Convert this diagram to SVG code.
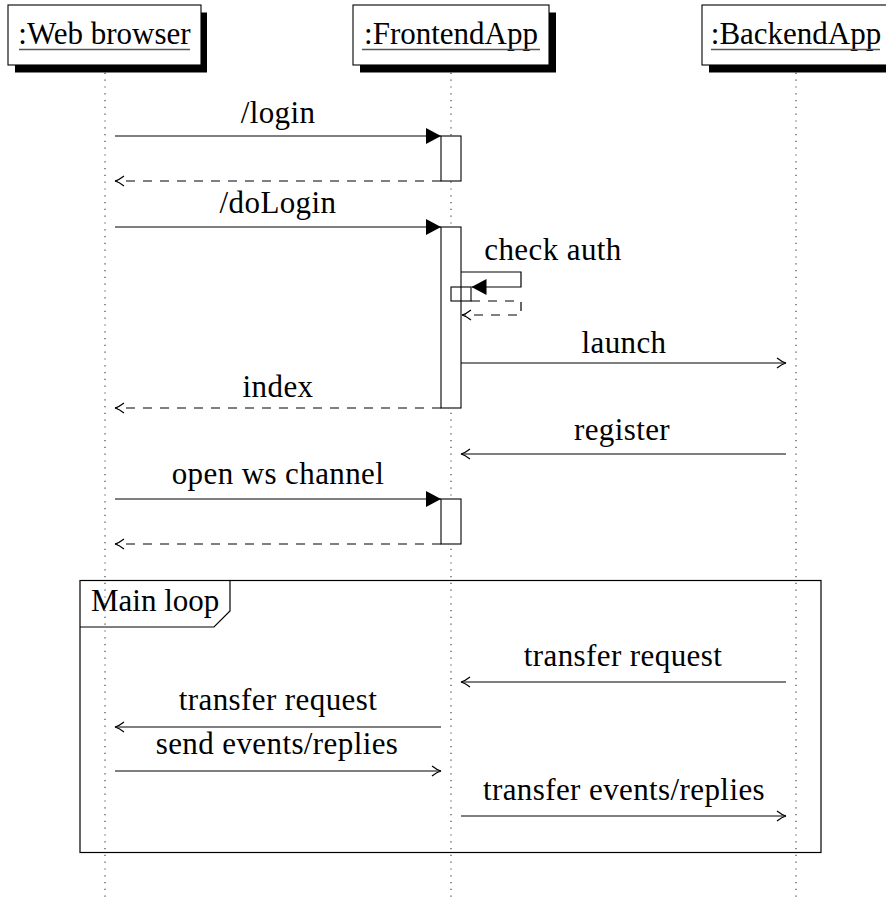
<svg xmlns="http://www.w3.org/2000/svg" width="886" height="902" viewBox="0 0 886 902">
  <defs>
    <style>
      .lbl { font-family: "Liberation Serif", "DejaVu Serif", serif; font-size: 31px; fill: #000; text-anchor: middle; }
      .msg-lbl { letter-spacing: 0.4px; }
      .lbl-start { text-anchor: start; }
      .life { stroke: #333; stroke-width: 1.1; stroke-dasharray: 1.2 5.6; fill: none; }
      .box { fill: #fff; stroke: #000; stroke-width: 1.1; }
      .shadow { fill: #000; stroke: none; }
      .uline { stroke: #555; stroke-width: 1.4; }
      .act { fill: #fff; stroke: #000; stroke-width: 1.1; }
      .msg { stroke: #000; stroke-width: 1.2; fill: none; }
      .call { marker-end: url(#solid); }
      .plain { marker-end: url(#open); }
      .ret { stroke-dasharray: 9 8; marker-end: url(#open); }
      .frame { fill: none; stroke: #000; stroke-width: 1.2; }
    </style>
    <marker id="solid" viewBox="0 0 15 16" refX="15" refY="8" markerWidth="15" markerHeight="16" orient="auto" markerUnits="userSpaceOnUse">
      <path d="M0,0 L15,8 L0,16 Z" fill="#000"/>
    </marker>
    <marker id="open" viewBox="0 0 11 12" refX="10" refY="6" markerWidth="11" markerHeight="12" orient="auto" markerUnits="userSpaceOnUse">
      <path d="M1,1 Q6,5 10,6 Q6,7 1,11" fill="none" stroke="#000" stroke-width="1.2"/>
    </marker>
  </defs>

  <rect width="886" height="902" fill="#fff"/>

  <!-- lifelines -->
  <g id="lifelines">
    <line class="life" x1="105" y1="66" x2="105" y2="902"/>
    <line class="life" x1="451" y1="66" x2="451" y2="902"/>
    <line class="life" x1="796" y1="66" x2="796" y2="902"/>
  </g>

  <!-- participants -->
  <g id="web-browser">
    <rect class="shadow" x="15" y="12.5" width="192" height="60"/>
    <rect class="box" x="8" y="5" width="193" height="60"/>
    <text class="lbl" x="104.5" y="44">:Web browser</text>
    <line class="uline" x1="19" y1="49.5" x2="190" y2="49.5"/>
  </g>

  <g id="frontend-app">
    <rect class="shadow" x="360" y="12.5" width="196" height="60"/>
    <rect class="box" x="353" y="5" width="196" height="60"/>
    <text class="lbl" x="451" y="44">:FrontendApp</text>
    <line class="uline" x1="362" y1="49.5" x2="540" y2="49.5"/>
  </g>

  <g id="backend-app">
    <rect class="shadow" x="709" y="12.5" width="188" height="60"/>
    <rect class="box" x="702" y="5" width="188" height="60"/>
    <text class="lbl" x="796" y="44">:BackendApp</text>
    <line class="uline" x1="711" y1="49.5" x2="880" y2="49.5"/>
  </g>

  <!-- activation bars on the FrontendApp lifeline -->
  <g id="activations">
    <rect class="act" x="441" y="136" width="20" height="45"/>
    <rect class="act" x="441" y="227" width="20" height="181"/>
    <rect class="act" x="441" y="499" width="20" height="45"/>
    <rect x="451" y="287" width="20" height="14" fill="none" stroke="#000" stroke-width="1.1"/>
  </g>

  <!-- combined fragment -->
  <g id="main-loop">
    <rect class="frame" x="80" y="580.5" width="741" height="272"/>
    <path class="frame" d="M80,627 H214 L230,611 V580.5"/>
    <text class="lbl lbl-start" x="91" y="611">Main loop</text>
  </g>

  <!-- messages -->
  <g id="connectors">
    <path class="msg call" d="M115,136 H441"/>
    <path class="msg ret" d="M441,181 H115"/>
    <path class="msg call" d="M115,227 H441"/>
    <path class="msg call" d="M461,272 H521 V287 H471.5"/>
    <path class="msg ret" d="M471,301 H521 V315 H462"/>
    <path class="msg plain" d="M461,363 H786"/>
    <path class="msg ret" d="M441,408 H115"/>
    <path class="msg plain" d="M786,454 H461"/>
    <path class="msg call" d="M115,499 H441"/>
    <path class="msg ret" d="M441,544 H115"/>
    <path class="msg plain" d="M786,682 H461"/>
    <path class="msg plain" d="M441,727 H115"/>
    <path class="msg plain" d="M115,771 H441"/>
    <path class="msg plain" d="M461,816 H786"/>
  </g>

  <!-- message labels -->
  <g id="labels" class="msg-lbl">
    <text class="lbl" x="278" y="123">/login</text>
    <text class="lbl" x="278" y="213">/doLogin</text>
    <text class="lbl" x="553" y="260">check auth</text>
    <text class="lbl" x="624" y="353">launch</text>
    <text class="lbl" x="278" y="397">index</text>
    <text class="lbl" x="622" y="440">register</text>
    <text class="lbl" x="278" y="484">open ws channel</text>
    <text class="lbl" x="623" y="666">transfer request</text>
    <text class="lbl" x="278" y="710">transfer request</text>
    <text class="lbl" x="277" y="754">send events/replies</text>
    <text class="lbl" x="624" y="800">transfer events/replies</text>
  </g>
</svg>
